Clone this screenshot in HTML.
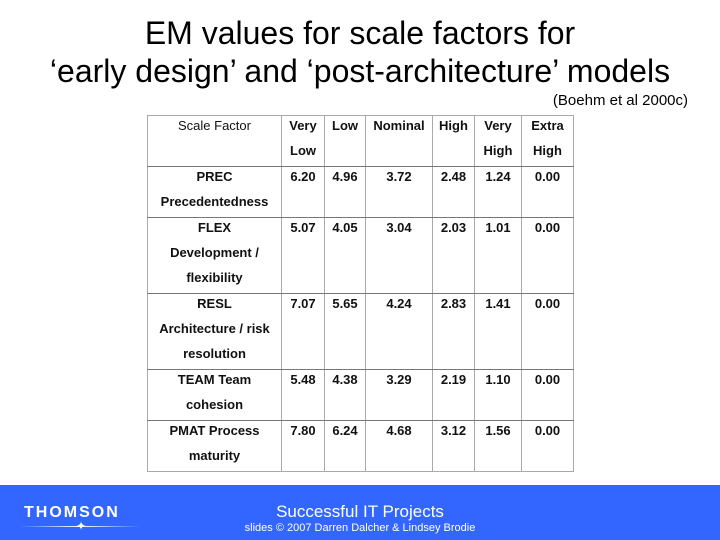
<!DOCTYPE html>
<html><head><meta charset="utf-8"><style>
body{margin:0;width:720px;height:540px;position:relative;background:#fff;font-family:"Liberation Sans",Arial,sans-serif;overflow:hidden}
.t{position:absolute;left:0;width:720px;text-align:center;font-size:32px;color:#000}
table{position:absolute;left:147px;top:115px;border-collapse:collapse;font-size:13px;font-weight:bold;color:#111;table-layout:fixed}
td{border:1px solid #aaa;text-align:center;vertical-align:top;line-height:25px;padding:0 2px;overflow:hidden}
td span{position:relative;top:-3px}
tr.r td{border-bottom:1.5px solid #777}
#footer{position:absolute;left:0;top:485px;width:720px;height:55px;background:#3366ff;color:#fff}
</style></head><body>
<div class="t" style="top:15px">EM values for scale factors for</div>
<div class="t" style="top:53px">‘early design’ and ‘post-architecture’ models</div>
<div style="position:absolute;right:32px;top:92px;font-size:15px">(Boehm et al 2000c)</div>
<table>
<colgroup><col style="width:134px"><col style="width:43px"><col style="width:41px"><col style="width:67px"><col style="width:42px"><col style="width:47px"><col style="width:52px"></colgroup>
<tr class="r" style="height:50px"><td style="font-weight:normal"><span>Scale Factor</span></td><td><span>Very<br>Low</span></td><td><span>Low</span></td><td><span>Nominal</span></td><td><span>High</span></td><td><span>Very<br>High</span></td><td><span>Extra<br>High</span></td></tr>
<tr class="r" style="height:49px"><td><span>PREC<br>Precedentedness</span></td><td><span>6.20</span></td><td><span>4.96</span></td><td><span>3.72</span></td><td><span>2.48</span></td><td><span>1.24</span></td><td><span>0.00</span></td></tr>
<tr class="r" style="height:76px"><td><span>FLEX<br>Development /<br>flexibility</span></td><td><span>5.07</span></td><td><span>4.05</span></td><td><span>3.04</span></td><td><span>2.03</span></td><td><span>1.01</span></td><td><span>0.00</span></td></tr>
<tr class="r" style="height:76px"><td><span>RESL<br>Architecture / risk<br>resolution</span></td><td><span>7.07</span></td><td><span>5.65</span></td><td><span>4.24</span></td><td><span>2.83</span></td><td><span>1.41</span></td><td><span>0.00</span></td></tr>
<tr class="r" style="height:49px"><td><span>TEAM Team<br>cohesion</span></td><td><span>5.48</span></td><td><span>4.38</span></td><td><span>3.29</span></td><td><span>2.19</span></td><td><span>1.10</span></td><td><span>0.00</span></td></tr>
<tr style="height:50px"><td><span>PMAT Process<br>maturity</span></td><td><span>7.80</span></td><td><span>6.24</span></td><td><span>4.68</span></td><td><span>3.12</span></td><td><span>1.56</span></td><td><span>0.00</span></td></tr>
</table>
<div id="footer">
<div style="position:absolute;left:24px;top:19px;font-size:16px;font-weight:bold;letter-spacing:2px">THOMSON</div>
<div style="position:absolute;left:20px;top:41px;width:120px;height:1px;background:linear-gradient(90deg,rgba(255,255,255,0),#fff,rgba(255,255,255,0))"></div>
<div style="position:absolute;left:76px;top:34px;font-size:12px">✦</div>
<div style="position:absolute;left:0;width:720px;top:17px;text-align:center;font-size:17px">Successful IT Projects</div>
<div style="position:absolute;left:0;width:720px;top:37px;text-align:center;font-size:11px">slides © 2007 Darren Dalcher &amp; Lindsey Brodie</div>
</div>
</body></html>
